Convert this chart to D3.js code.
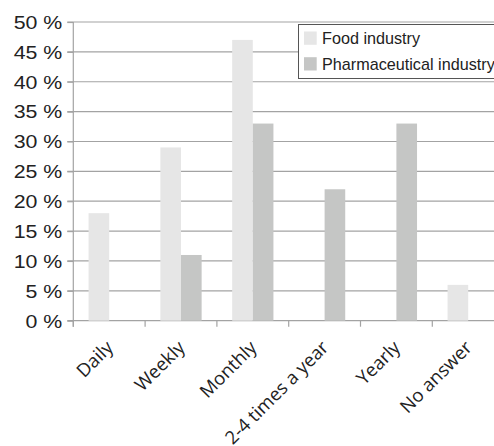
<!DOCTYPE html>
<html>
<head>
<meta charset="utf-8">
<script src="https://cdn.jsdelivr.net/npm/d3@7"></script>
<style>
  body { margin: 0; background: #fff; }
  svg { display: block; }
  .y-axis text { font-family: "Liberation Sans", Arial, sans-serif; font-size: 17.5px; fill: #222; }
  .x-label { font-family: "Open Sans", sans-serif; font-size: 18.5px; fill: #222; }
  .legend text { font-family: "Liberation Sans", Arial, sans-serif; font-size: 16.2px; fill: #222; }
</style>
</head>
<body>
<div id="chart"></div>
<script>
const categories = ['Daily', 'Weekly', 'Monthly', '2-4 times a year', 'Yearly', 'No answer'];
const seriesNames = ['Food industry', 'Pharmaceutical industry'];
const foodValues = [18, 29, 47, 0, 0, 6];
const pharmaValues = [0, 11, 33, 22, 33, 0];
const yTicks = [0, 5, 10, 15, 20, 25, 30, 35, 40, 45, 50];
const colors = ['#e6e6e6', '#c5c6c5'];

const config = {
  width: 494,
  height: 446,
  margin: { top: 22, left: 73.3 },
  plotHeight: 298.7,
  step: 71.8,
};

const rows = categories.map((c, i) => ({
  cat: c,
  values: [
    { key: seriesNames[0], value: foodValues[i] },
    { key: seriesNames[1], value: pharmaValues[i] },
  ],
}));

const svg = d3.select('#chart').append('svg')
  .attr('width', config.width)
  .attr('height', config.height);

const chart = svg.append('g')
  .attr('transform', `translate(${config.margin.left},${config.margin.top})`);

// scales
const xScale = d3.scaleBand()
  .domain(categories)
  .range([0, config.step * categories.length])
  .padding(0);
const xInner = d3.scaleBand()
  .domain(seriesNames)
  .range([0, xScale.bandwidth()])
  .paddingInner(0)
  .paddingOuter(0.74);
const yScale = d3.scaleLinear()
  .domain([0, 50])
  .range([config.plotHeight, 0]);
const color = d3.scaleOrdinal().domain(seriesNames).range(colors);

const gridColor = '#a3a3a3';

// gridlines (drawn first, bars go on top)
chart.append('g')
  .selectAll('line')
  .data(yTicks)
  .join('line')
  .attr('x1', -6)
  .attr('x2', config.width)
  .attr('y1', d => yScale(d))
  .attr('y2', d => yScale(d))
  .attr('stroke', gridColor)
  .attr('stroke-width', 1.2);

// y axis
const yAxisG = chart.append('g')
  .attr('class', 'axis y-axis')
  .call(d3.axisLeft(yScale).tickValues(yTicks).tickSize(6).tickFormat(d => `${d} %`));
yAxisG.select('.domain').remove();
yAxisG.selectAll('.tick line').attr('stroke', gridColor).attr('stroke-width', 1.2);
yAxisG.selectAll('.tick text')
  .attr('x', 0)
  .attr('dy', '0.36em')
  .attr('transform', 'translate(-11,0) scale(1.22,1)');

// bars
chart.append('g')
  .selectAll('g')
  .data(rows)
  .join('g')
  .attr('transform', d => `translate(${xScale(d.cat)},0)`)
  .selectAll('rect')
  .data(d => d.values.filter(v => v.value > 0))
  .join('rect')
  .attr('x', d => xInner(d.key))
  .attr('width', xInner.bandwidth())
  .attr('y', d => yScale(d.value))
  .attr('height', d => yScale(0) - yScale(d.value))
  .attr('fill', d => color(d.key));

// vertical axis line
chart.append('line')
  .attr('x1', 0).attr('x2', 0)
  .attr('y1', 0).attr('y2', config.plotHeight + 6)
  .attr('stroke', gridColor)
  .attr('stroke-width', 1.2);

// x axis ticks at band boundaries
const xAxisG = chart.append('g')
  .attr('transform', `translate(0,${config.plotHeight})`);
xAxisG.selectAll('line')
  .data(categories.concat(['end']))
  .join('line')
  .attr('x1', (d, i) => i * xScale.step())
  .attr('x2', (d, i) => i * xScale.step())
  .attr('y1', 0)
  .attr('y2', 6)
  .attr('stroke', gridColor)
  .attr('stroke-width', 1.2);

xAxisG.selectAll('text')
  .data(categories)
  .join('text')
  .attr('class', 'x-label')
  .attr('text-anchor', 'end')
  .attr('transform', d => `translate(${xScale(d) + xScale.bandwidth() / 2 + 5},${28}) rotate(-45)`)
  .text(d => d);

// legend
const legend = svg.append('g')
  .attr('class', 'legend')
  .attr('transform', 'translate(298.5,24.5)');
legend.append('rect')
  .attr('width', 240)
  .attr('height', 54)
  .attr('fill', '#fff')
  .attr('stroke', '#555')
  .attr('stroke-width', 1);
const items = legend.selectAll('.item')
  .data(seriesNames)
  .join('g')
  .attr('class', 'item')
  .attr('transform', (d, i) => `translate(0,${i * 25.7})`);
items.append('rect')
  .attr('x', 5.5)
  .attr('y', 7)
  .attr('width', 12.7)
  .attr('height', 13.3)
  .attr('fill', d => color(d));
items.append('text')
  .attr('x', 23.5)
  .attr('y', 19.8)
  .text(d => d);
</script>
</body>
</html>
